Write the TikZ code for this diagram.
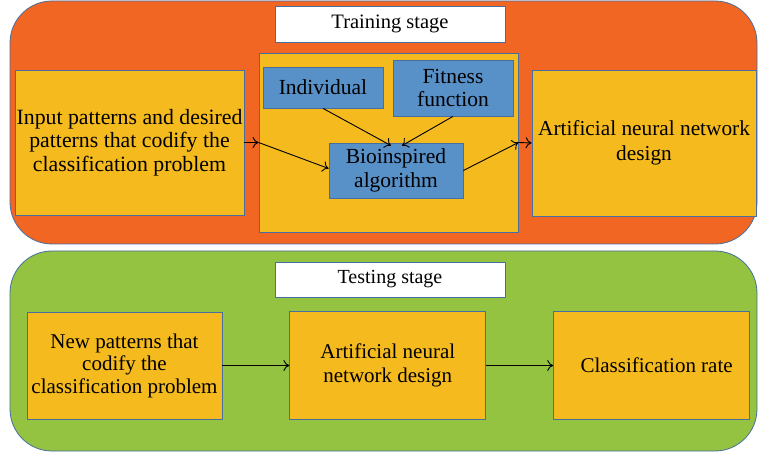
\documentclass[tikz,border=0pt]{standalone}
\usepackage{fontspec}
\setmainfont{Liberation Serif}
\usepackage{tikz}
\usetikzlibrary{positioning,arrows.meta}

\definecolor{stageorange}{RGB}{242,102,35}
\definecolor{stagegreen}{RGB}{147,195,64}
\definecolor{boxyellow}{RGB}{244,186,30}
\definecolor{boxblue}{RGB}{88,144,200}
\definecolor{edgeblue}{RGB}{70,110,160}

\tikzset{
  stage/.style={draw=edgeblue, line width=0.8pt, rounded corners=42pt},
  title/.style={draw=edgeblue, fill=white, line width=0.8pt, minimum width=230pt, minimum height=36pt, font=\fontsize{20.5}{24}\selectfont},
  ybox/.style={draw=edgeblue, fill=boxyellow, line width=0.8pt, align=center, inner sep=1pt, font=\fontsize{21.8}{23.5}\selectfont},
  bbox/.style={draw=edgeblue, fill=boxblue, line width=0.8pt, align=center, inner sep=1pt, font=\fontsize{21.5}{23}\selectfont},
  arr/.style={-{To[length=6pt,width=11pt]}, line width=0.9pt}
}

\begin{document}
\begin{tikzpicture}[x=1pt, y=-1pt]
\useasboundingbox (0,0) rectangle (758,454);

%Stages
\node[stage, fill=stageorange, minimum width=747pt, minimum height=243pt] (Train) at (383.5,122.5) {};
\node[stage, fill=stagegreen, minimum width=747pt, minimum height=200pt] (Test) at (383.5,351) {};
\node[title] (TrainT) at (390,24) {Training stage};
\node[title, minimum height=35pt, font=\fontsize{20}{24}\selectfont] (TestT) at (390,279.5) {Testing stage};

%Nodes
\node[ybox, minimum width=229pt, minimum height=145pt] (In1)  at (129.5,142.5)
  {Input patterns and desired\\patterns that codify the\\classification problem};
\node[ybox, minimum width=259pt, minimum height=179pt] (GA)   at (388.5,142.5) {};
\node[bbox, minimum width=120pt, minimum height=41pt]  (Ind)  at (323,87.5) {Individual};
\node[bbox, minimum width=120pt, minimum height=56pt]  (Fit)  at (453,88) {Fitness\\function};
\node[bbox, minimum width=134pt, minimum height=55pt, font=\fontsize{21.5}{24}\selectfont] (Bio) at (396,170.5) {Bioinspired\\algorithm};
\node[ybox, minimum width=224pt, minimum height=146pt, font=\fontsize{21.3}{25}\selectfont] (ANN1) at (644,143)
  {Artificial neural network\\design};

\node[ybox, minimum width=195pt, minimum height=107pt, font=\fontsize{21}{22.5}\selectfont] (New2) at (124.5,365.5)
  {New patterns that\\codify the\\classification problem};
\node[ybox, minimum width=196pt, minimum height=108pt, font=\fontsize{21}{24}\selectfont] (ANN2) [right=67pt of New2]
  {Artificial neural\\network design};
\node[ybox, minimum width=196pt, minimum height=108pt, font=\fontsize{21}{23}\selectfont] (Rate2) [right=67pt of ANN2]
  {\hspace*{10pt}Classification rate};

%Lines
\draw[arr] (In1.east) -- (GA.west);
\draw[arr] (GA.west) -- ([yshift=2pt]Bio.west);
\draw[arr] (Ind.south) -- ([xshift=-5pt,yshift=-3pt]Bio.north);
\draw[arr] (Fit.south) -- ([xshift=6pt,yshift=-3pt]Bio.north);
\draw[arr] (Bio.east) -- (GA.east);
\draw[arr] (GA.east) -- (ANN1.west);
\draw[arr] (New2.east) -- (ANN2.west);
\draw[arr] (ANN2.east) -- (Rate2.west);
\end{tikzpicture}
\end{document}
